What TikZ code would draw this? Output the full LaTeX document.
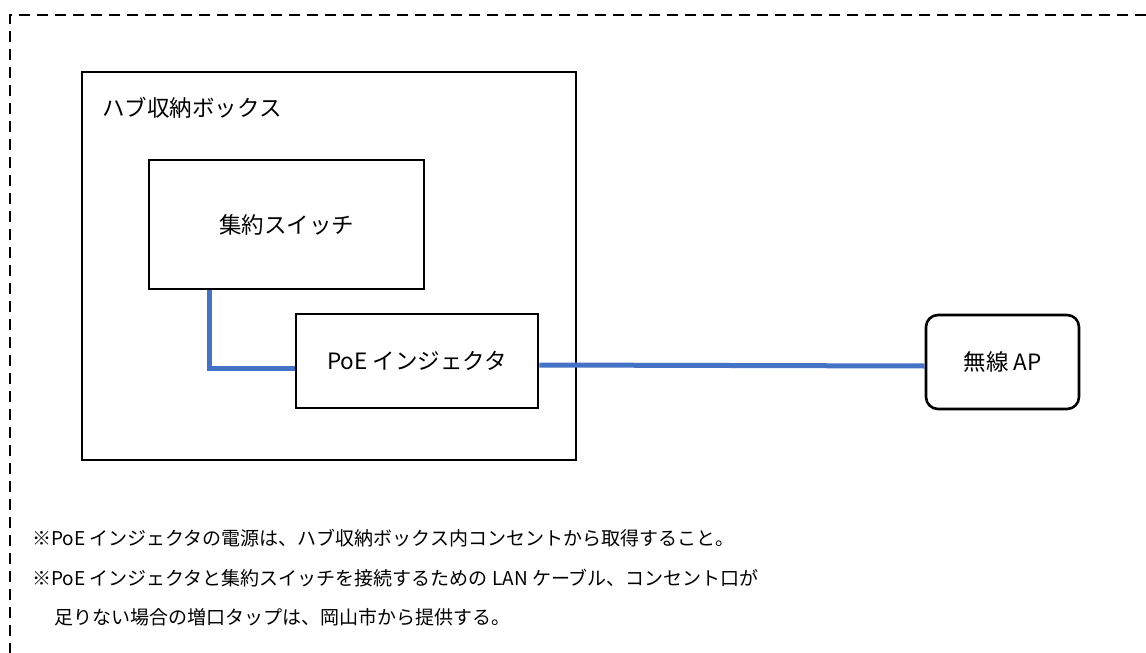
\documentclass[tikz,border=0pt]{standalone}
\usepackage{fontspec}
\setmainfont{Noto Sans CJK JP}
\begin{document}
\begin{tikzpicture}[x=1pt,y=-1pt,
  box/.style={draw=black,line width=2.6pt,inner sep=0pt,align=center,font=\fontsize{22.5}{26}\selectfont},
  cable/.style={draw={rgb,255:red,68;green,114;blue,196},line width=5pt},
  note/.style={anchor=west,inner sep=0pt,font=\fontsize{19}{22}\selectfont}]
\clip (0,0) rectangle (1146,653);
\fill[white] (0,0) rectangle (1146,653);
\draw[line width=2.8pt,dash pattern=on 11pt off 7pt] (1200,15) -| (10,700);
\node[box,minimum width=494pt,minimum height=388pt] (hub) at (329,266) {};
\node[anchor=west,inner sep=0pt,font=\fontsize{22.5}{26}\selectfont] (hublabel) at (102,108) {ハブ収納ボックス};
\node[box,minimum width=275pt,minimum height=129pt] (sw) at (286.5,224.5) {集約スイッチ};
\node[box,minimum width=242pt,minimum height=94pt] (poe) at (417,361) {PoE インジェクタ};
\node[box,rounded corners=12pt,minimum width=153pt,minimum height=94pt] (ap) at (1002.5,362) {無線 AP};
\coordinate (k) at (209,368);
\draw[cable] (sw.south -| k) -- (k) -- (k -| poe.west);
\draw[cable] ([yshift=-4pt]poe.east) -- ([yshift=-4pt]ap.west);
\node[note] (n1) at (32,538) {※PoE インジェクタの電源は、ハブ収納ボックス内コンセントから取得すること。};
\node[note] (n2) at (32,578) {※PoE インジェクタと集約スイッチを接続するための LAN ケーブル、コンセント口が};
\node[note] (n3) at (54,617) {足りない場合の増口タップは、岡山市から提供する。};
\end{tikzpicture}
\end{document}
